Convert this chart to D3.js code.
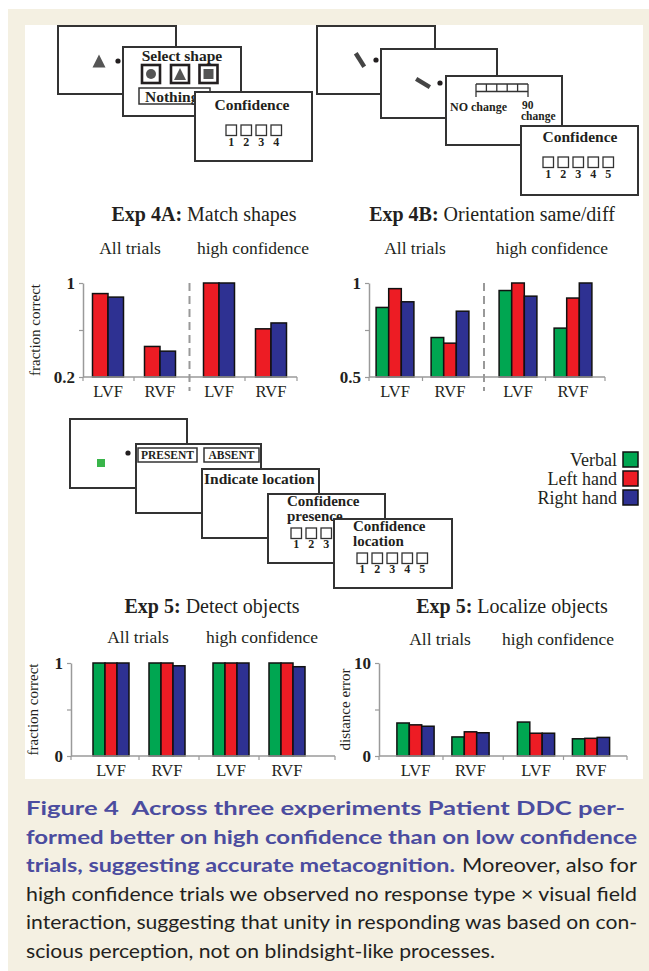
<!DOCTYPE html>
<html>
<head>
<meta charset="utf-8">
<script src="https://cdn.jsdelivr.net/npm/d3@7"></script>
<style>
  body { margin: 0; background: #fff; }
  svg { display: block; }
</style>
</head>
<body>
<svg id="fig"></svg>
<script>
// response types and conditions
var series = ['Verbal', 'Left hand', 'Right hand'];
var seriesColors = ['#00a651', '#ed1c24', '#2e3192'];
var conditions = ['All trials', 'high confidence'];
var fields = ['LVF', 'RVF'];

// values, order: all LVF, all RVF, high LVF, high RVF
var exp4aLeft = [0.91, 0.46, 1.0, 0.61];
var exp4aRight = [0.88, 0.42, 1.0, 0.66];

var exp4bVerbal = [0.87, 0.71, 0.96, 0.76];
var exp4bLeft = [0.97, 0.68, 1.0, 0.92];
var exp4bRight = [0.90, 0.85, 0.93, 1.0];

var detectVerbal = [1, 1, 1, 1];
var detectLeft = [1, 1, 1, 1];
var detectRight = [1, 0.97, 1, 0.96];

var localizeVerbal = [3.55, 2.05, 3.65, 1.85];
var localizeLeft = [3.35, 2.6, 2.45, 1.9];
var localizeRight = [3.2, 2.5, 2.45, 2.0];

var exp4aTicks = [0.2, 0.6, 1];
var exp4bTicks = [0.5, 0.75, 1];
var detectTicks = [0, 0.5, 1];
var localizeTicks = [0, 5, 10];

var SERIF = '"Liberation Serif", "Times New Roman", serif';
var SANS = 'Lato, "Open Sans", sans-serif';
var INK = '#231f20';

var svg = d3.select('#fig')
  .attr('width', 649)
  .attr('height', 971);

// page background
svg.append('rect').attr('width', 649).attr('height', 971).attr('fill', '#fff');
svg.append('rect').attr('x', 8).attr('y', 9).attr('width', 641).attr('height', 962).attr('fill', '#f4f0e2');
svg.append('rect').attr('x', 25).attr('y', 25).attr('width', 618).attr('height', 754).attr('fill', '#fff');

var label = function (parent, x, y, str, size, weight, anchor) {
  return parent.append('text')
    .attr('x', x)
    .attr('y', y)
    .attr('font-family', SERIF)
    .attr('font-size', size)
    .attr('font-weight', weight || 'normal')
    .attr('text-anchor', anchor || 'start')
    .attr('fill', INK)
    .text(str);
};

var box = function (x, y, w, h, sw) {
  return svg.append('rect')
    .attr('x', x).attr('y', y)
    .attr('width', w).attr('height', h)
    .attr('fill', '#fff')
    .attr('stroke', '#333')
    .attr('stroke-width', sw || 2);
};

var dot = function (x, y) {
  svg.append('circle').attr('cx', x).attr('cy', y).attr('r', 2.6).attr('fill', INK);
};

var tri = function (cx, cy, s) {
  svg.append('path')
    .attr('d', 'M' + cx + ',' + (cy - s / 2) + 'L' + (cx + s / 2) + ',' + (cy + s / 2) + 'L' + (cx - s / 2) + ',' + (cy + s / 2) + 'Z')
    .attr('fill', '#555');
};

var stick = function (cx, cy, angle) {
  svg.append('rect')
    .attr('x', -8).attr('y', -2.2)
    .attr('width', 16).attr('height', 4.4)
    .attr('fill', '#444')
    .attr('transform', 'translate(' + cx + ',' + cy + ') rotate(' + angle + ')');
};

// confidence scale: n boxes, the first `shown` of them numbered
var scaleBoxes = function (x0, y0, n, shown, labelY) {
  for (var i = 0; i < n; i++) {
    svg.append('rect')
      .attr('x', x0 + i * 15).attr('y', y0)
      .attr('width', 10.5).attr('height', 10.5)
      .attr('fill', '#fff').attr('stroke', '#333').attr('stroke-width', 1.3);
    if (i < shown) label(svg, x0 + i * 15 + 5.25, labelY, String(i + 1), 12, 'bold', 'middle');
  }
};

// ---- Exp 4A task schematic
box(58, 26, 118, 68);
tri(99, 61, 13);
dot(118, 61);
box(123, 47, 118, 69);
label(svg, 182, 61, 'Select shape', 15.5, 'bold', 'middle');
[142, 171, 199.5].forEach(function (x) {
  svg.append('rect').attr('x', x).attr('y', 65).attr('width', 18).attr('height', 18)
    .attr('fill', '#fff').attr('stroke', INK).attr('stroke-width', 2.6);
});
svg.append('circle').attr('cx', 151).attr('cy', 74).attr('r', 5).attr('fill', '#555');
tri(180, 74, 12);
svg.append('rect').attr('x', 203.5).attr('y', 69).attr('width', 10).attr('height', 10).attr('fill', '#555');
box(139, 88, 71, 16, 1.5);
label(svg, 145, 102, 'Nothing', 15.5, 'bold');
box(195, 92, 117, 69);
label(svg, 252, 110, 'Confidence', 15.5, 'bold', 'middle');
scaleBoxes(226, 125, 4, 4, 146);

// ---- Exp 4B task schematic
box(317, 26, 118, 68);
stick(360, 60, 58);
dot(376, 60);
box(381, 49, 116, 69);
stick(423, 83, 31);
dot(440, 83);
box(446, 76, 116, 69);
svg.append('line').attr('x1', 476).attr('x2', 528).attr('y1', 84).attr('y2', 84).attr('stroke', '#333').attr('stroke-width', 1.3);
svg.append('line').attr('x1', 476).attr('x2', 528).attr('y1', 91.5).attr('y2', 91.5).attr('stroke', '#333').attr('stroke-width', 1.3);
for (var r = 0; r <= 5; r++) {
  svg.append('line')
    .attr('x1', 476 + r * 10.4).attr('x2', 476 + r * 10.4)
    .attr('y1', 84).attr('y2', (r === 0 || r === 5) ? 97 : 91.5)
    .attr('stroke', '#333').attr('stroke-width', 1.3);
}
label(svg, 450, 111, 'NO change', 12, 'bold');
label(svg, 522, 109, '90', 11.5, 'bold');
label(svg, 521, 120, 'change', 11.5, 'bold');
box(521, 126, 117, 69);
label(svg, 580, 142, 'Confidence', 15.5, 'bold', 'middle');
scaleBoxes(543, 157, 5, 5, 178);

// ---- Exp 5 task schematic
box(70, 419, 117, 69);
svg.append('rect').attr('x', 97).attr('y', 459).attr('width', 8).attr('height', 8).attr('fill', '#39b54a');
dot(128, 453);
box(136, 444, 125, 69);
box(138, 448, 59, 14, 1.5);
label(svg, 167.5, 459, 'PRESENT', 11.5, 'bold', 'middle');
box(204, 448, 55, 14, 1.5);
label(svg, 231.5, 459, 'ABSENT', 11.5, 'bold', 'middle');
box(202, 469, 117, 69);
label(svg, 204, 484, 'Indicate location', 15.5, 'bold');
box(268, 494, 117, 69);
label(svg, 287, 506, 'Confidence', 15, 'bold');
label(svg, 287, 521, 'presence', 15, 'bold');
scaleBoxes(291, 528, 5, 3, 548);
box(334, 519, 118, 69);
label(svg, 353, 531, 'Confidence', 15, 'bold');
label(svg, 353, 546, 'location', 15, 'bold');
scaleBoxes(357, 553, 5, 5, 573);

// ---- bar charts
var drawChart = function (cfg) {
  var g = svg.append('g');
  var y = d3.scaleLinear().domain([cfg.ticks[0], cfg.ticks[2]]).range([cfg.bottom, cfg.top]);
  var outer = d3.scaleBand().domain(conditions).range(cfg.outer);
  var inner = d3.scalePoint().domain(fields).range([-cfg.half, cfg.half]);
  var names = cfg.series.map(function (s) { return s.name; });
  var bar = d3.scaleBand().domain(names).range([-cfg.barW * names.length / 2, cfg.barW * names.length / 2]);
  var centre = function (k) {
    return outer(conditions[Math.floor(k / 2)]) + outer.bandwidth() / 2 + inner(fields[k % 2]);
  };

  // title
  var t = g.append('text')
    .attr('x', cfg.titleX).attr('y', cfg.titleY)
    .attr('text-anchor', 'middle')
    .attr('font-family', SERIF).attr('font-size', 20).attr('fill', INK);
  t.append('tspan').attr('font-weight', 'bold').text(cfg.title[0]);
  t.append('tspan').text(cfg.title[1]);

  conditions.forEach(function (c, i) {
    label(g, cfg.subX[i], cfg.subY, c, 17.5, 'normal', 'middle');
  });

  if (cfg.dashed) {
    var bx = outer(conditions[1]);
    g.append('line')
      .attr('x1', bx).attr('x2', bx)
      .attr('y1', cfg.top).attr('y2', cfg.bottom + 14)
      .attr('stroke', '#999').attr('stroke-width', 2)
      .attr('stroke-dasharray', '8,5');
  }

  // bars
  cfg.series.forEach(function (s) {
    g.selectAll(null)
      .data(s.values)
      .enter().append('rect')
      .attr('x', function (d, k) { return centre(k) + bar(s.name); })
      .attr('y', function (d) { return y(d); })
      .attr('width', bar.bandwidth())
      .attr('height', function (d) { return y(cfg.ticks[0]) - y(d); })
      .attr('fill', seriesColors[series.indexOf(s.name)])
      .attr('stroke', '#111')
      .attr('stroke-width', 1.5);
  });

  // y axis
  var yAxis = g.append('g')
    .attr('transform', 'translate(' + cfg.x0 + ',0)')
    .call(d3.axisLeft(y)
      .tickValues(cfg.ticks)
      .tickSizeInner(4)
      .tickSizeOuter(0)
      .tickPadding(4)
      .tickFormat(function (d, i) { return i === 1 ? '' : d; }));
  yAxis.select('.domain').attr('stroke', '#9a9a9a').attr('stroke-width', 1.5);
  yAxis.selectAll('.tick line').attr('stroke', '#9a9a9a').attr('stroke-width', 1.2);
  yAxis.selectAll('.tick text')
    .attr('font-family', SERIF).attr('font-size', 17).attr('font-weight', 'bold').attr('fill', INK);

  // category axis
  g.append('line')
    .attr('x1', cfg.x0).attr('x2', cfg.x1)
    .attr('y1', cfg.bottom).attr('y2', cfg.bottom)
    .attr('stroke', '#9a9a9a').attr('stroke-width', 1.5);
  var marks = [cfg.x0, centre(0) + cfg.half, outer(conditions[1]), centre(2) + cfg.half, cfg.x1];
  g.selectAll(null)
    .data(marks)
    .enter().append('line')
    .attr('x1', function (d) { return d; }).attr('x2', function (d) { return d; })
    .attr('y1', cfg.bottom).attr('y2', cfg.bottom + 4)
    .attr('stroke', '#9a9a9a').attr('stroke-width', 1.2);

  g.selectAll(null)
    .data([0, 1, 2, 3])
    .enter().append('text')
    .attr('x', function (k) { return centre(k); })
    .attr('y', cfg.bottom + 20)
    .attr('text-anchor', 'middle')
    .attr('font-family', SERIF).attr('font-size', 16.5).attr('fill', INK)
    .text(function (k) { return fields[k % 2]; });

  if (cfg.yLabel) {
    g.append('text')
      .attr('transform', 'translate(' + cfg.yLabelX + ',' + ((cfg.top + cfg.bottom) / 2) + ') rotate(-90)')
      .attr('text-anchor', 'middle')
      .attr('font-family', SERIF).attr('font-size', 15).attr('fill', INK)
      .text(cfg.yLabel);
  }
};

drawChart({
  title: ['Exp 4A:', ' Match shapes'], titleX: 204, titleY: 221,
  subX: [130, 253], subY: 254,
  series: [{ name: 'Left hand', values: exp4aLeft }, { name: 'Right hand', values: exp4aRight }],
  ticks: exp4aTicks, yLabel: 'fraction correct', yLabelX: 40,
  x0: 83, x1: 297, top: 283, bottom: 377,
  outer: [78.5, 300.5], half: 26, barW: 15.5, dashed: true
});

drawChart({
  title: ['Exp 4B:', ' Orientation same/diff'], titleX: 492, titleY: 221,
  subX: [415, 552], subY: 254,
  series: [{ name: 'Verbal', values: exp4bVerbal }, { name: 'Left hand', values: exp4bLeft }, { name: 'Right hand', values: exp4bRight }],
  ticks: exp4bTicks,
  x0: 369, x1: 605, top: 283, bottom: 377,
  outer: [361, 607], half: 27.5, barW: 12.6, dashed: true
});

drawChart({
  title: ['Exp 5:', ' Detect objects'], titleX: 212, titleY: 613,
  subX: [138, 262], subY: 643,
  series: [{ name: 'Verbal', values: detectVerbal }, { name: 'Left hand', values: detectLeft }, { name: 'Right hand', values: detectRight }],
  ticks: detectTicks, yLabel: 'fraction correct', yLabelX: 38,
  x0: 71, x1: 335, top: 663, bottom: 756,
  outer: [79, 319], half: 28, barW: 12
});

drawChart({
  title: ['Exp 5:', ' Localize objects'], titleX: 512, titleY: 613,
  subX: [440, 558], subY: 645,
  series: [{ name: 'Verbal', values: localizeVerbal }, { name: 'Left hand', values: localizeLeft }, { name: 'Right hand', values: localizeRight }],
  ticks: localizeTicks, yLabel: 'distance error', yLabelX: 350,
  x0: 379, x1: 627, top: 663, bottom: 756,
  outer: [382.75, 623.75], half: 27.5, barW: 12.4
});

// legend
var legend = svg.append('g');
series.forEach(function (s, i) {
  var cy = 459.5 + i * 19;
  label(legend, 617, cy + 6, s, 18, 'normal', 'end');
  legend.append('rect')
    .attr('x', 623).attr('y', cy - 7.5)
    .attr('width', 15).attr('height', 15)
    .attr('fill', seriesColors[i])
    .attr('stroke', '#111').attr('stroke-width', 1.5);
});

// caption
var PURPLE = '#4b4c9f';
var captionLines = [
  { parts: [['Figure 4\u2002Across three experiments Patient DDC per-', 'bold', PURPLE, 26, 599]] },
  { parts: [['formed better on high confidence than on low confidence', 'bold', PURPLE, 26, 611]] },
  { parts: [['trials, suggesting accurate metacognition.', 'bold', PURPLE, 26, 429], ['Moreover, also for', 'normal', INK, 462, 175]] },
  { parts: [['high confidence trials we observed no response type \u00d7 visual field', 'normal', INK, 26, 611]] },
  { parts: [['interaction, suggesting that unity in responding was based on con-', 'normal', INK, 26, 611]] },
  { parts: [['scious perception, not on blindsight-like processes.', 'normal', INK, 26, 469]] }
];
captionLines.forEach(function (line, i) {
  line.parts.forEach(function (p) {
    svg.append('text')
      .attr('x', p[3])
      .attr('y', 815 + i * 28.6)
      .attr('font-family', SANS)
      .attr('font-size', 19.5)
      .attr('font-weight', p[1])
      .attr('fill', p[2])
      .attr('textLength', p[4])
      .attr('lengthAdjust', 'spacingAndGlyphs')
      .text(p[0]);
  });
});
</script>
</body>
</html>
